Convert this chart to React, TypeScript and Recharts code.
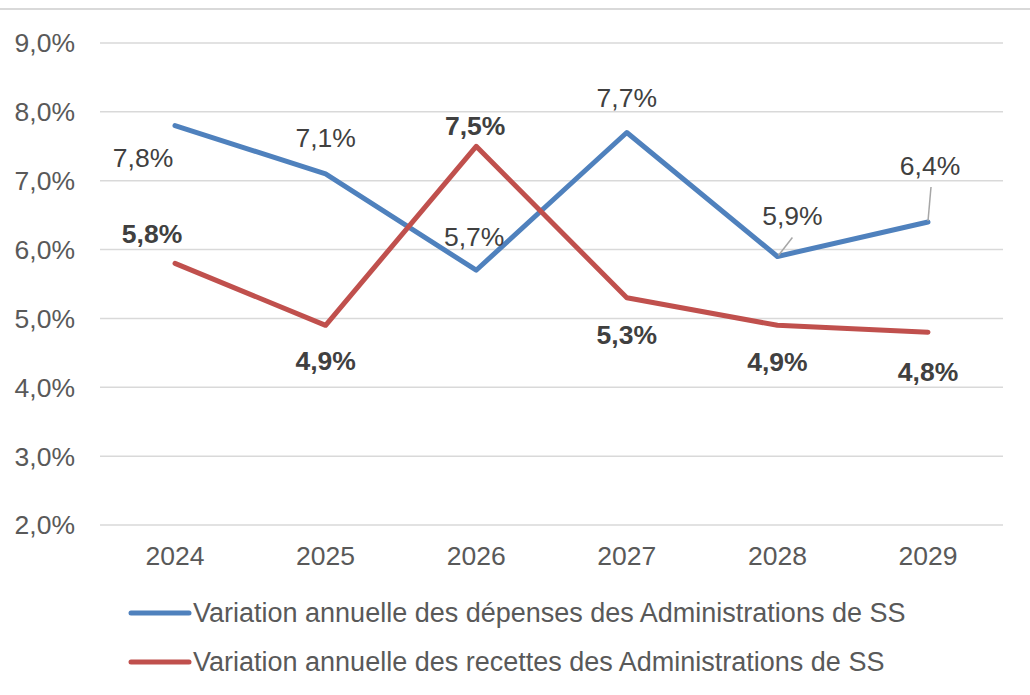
import { CartesianGrid, Legend, Line, LineChart, XAxis, YAxis } from 'recharts';

const years = ['2024', '2025', '2026', '2027', '2028', '2029'];
const depenses = [7.8, 7.1, 5.7, 7.7, 5.9, 6.4];
const recettes = [5.8, 4.9, 7.5, 5.3, 4.9, 4.8];
const yTicks = [2, 3, 4, 5, 6, 7, 8, 9];

const seriesNames = {
  dep: 'Variation annuelle des dépenses des Administrations de SS',
  rec: 'Variation annuelle des recettes des Administrations de SS',
};

const BLUE = '#4F81BD';
const RED = '#C0504D';
const FONT = '"Liberation Sans", Arial, sans-serif';
const FS = 26.5;

// label placement relative to each point (dx, dy), plus optional leader line
const depLabelPos = [
  { dx: -32, dy: 32 },
  { dx: 0, dy: -36 },
  { dx: -2, dy: -33 },
  { dx: 0, dy: -35 },
  { dx: 15, dy: -40, leader: [1, -1, 15, -19] },
  { dx: 2, dy: -56, leader: [0, -1, 3, -35] },
];
const recLabelPos = [
  { dx: -23, dy: -29 },
  { dx: 0, dy: 36 },
  { dx: -1, dy: -20 },
  { dx: 0, dy: 37 },
  { dx: 0, dy: 37 },
  { dx: 0, dy: 40 },
];

const rows = years.map((year, i) => ({
  year,
  dep: depenses[i],
  rec: recettes[i],
}));

const fmt = (v: number) => `${v.toFixed(1).replace('.', ',')}%`;

function makeLabel(pos: typeof depLabelPos, bold: boolean) {
  return (props: any) => {
    const { x, y, value, index } = props;
    const p = pos[index] ?? { dx: 0, dy: -30 };
    return (
      <g key={`lbl-${bold ? 'r' : 'b'}-${index}`}>
        {p.leader && (
          <line
            x1={x + p.leader[0]}
            y1={y + p.leader[1]}
            x2={x + p.leader[2]}
            y2={y + p.leader[3]}
            stroke="#a6a6a6"
            strokeWidth={1.5}
          />
        )}
        <text
          x={x + p.dx}
          y={y + p.dy}
          textAnchor="middle"
          dominantBaseline="central"
          fill="#404040"
          fontSize={FS}
          fontWeight={bold ? 'bold' : 'normal'}
          fontFamily={FONT}
        >
          {fmt(Number(value))}
        </text>
      </g>
    );
  };
}

function LegendBox() {
  const items = [
    { color: BLUE, name: seriesNames.dep },
    { color: RED, name: seriesNames.rec },
  ];
  return (
    <div style={{ position: 'relative', height: 110 }}>
      {items.map((it, i) => (
        <div
          key={it.name}
          style={{
            position: 'absolute',
            left: 128,
            top: 12 + i * 49,
            display: 'flex',
            alignItems: 'center',
            height: 32,
            whiteSpace: 'nowrap',
          }}
        >
          <svg width={64} height={10}>
            <line x1={3} y1={5} x2={61} y2={5} stroke={it.color} strokeWidth={5} strokeLinecap="round" />
          </svg>
          <span style={{ fontSize: 27, color: '#595959', fontFamily: FONT, marginLeft: 1 }}>{it.name}</span>
        </div>
      ))}
    </div>
  );
}

export default function App() {
  return (
    <div style={{ position: 'absolute', left: 0, top: 0, width: 1030, height: 695, background: '#fff' }}>
      <div style={{ position: 'absolute', left: 0, top: 8, width: 1030, height: 2, background: '#d9d9d9' }} />
      <LineChart
        width={1030}
        height={695}
        data={rows}
        margin={{ top: 43, right: 27, left: 0, bottom: 0 }}
        style={{ fontFamily: FONT }}
      >
        <CartesianGrid vertical={false} stroke="#d9d9d9" strokeWidth={1.5} />
        <XAxis
          dataKey="year"
          axisLine={false}
          tickLine={false}
          tickSize={0}
          tickMargin={21}
          height={60}
          padding={{ left: 75, right: 75 }}
          tick={{ fontSize: FS, fill: '#595959', fontFamily: FONT }}
        />
        <YAxis
          domain={[2, 9]}
          ticks={yTicks}
          tickFormatter={fmt}
          axisLine={false}
          tickLine={false}
          tickSize={0}
          tickMargin={25}
          width={100}
          tick={{ fontSize: FS, fill: '#595959', fontFamily: FONT }}
        />
        <Legend verticalAlign="bottom" height={110} content={() => <LegendBox />} />
        <Line
          dataKey="dep"
          name={seriesNames.dep}
          stroke={BLUE}
          strokeWidth={5}
          strokeLinejoin="round"
          strokeLinecap="round"
          dot={false}
          activeDot={false}
          isAnimationActive={false}
          label={makeLabel(depLabelPos, false)}
        />
        <Line
          dataKey="rec"
          name={seriesNames.rec}
          stroke={RED}
          strokeWidth={5}
          strokeLinejoin="round"
          strokeLinecap="round"
          dot={false}
          activeDot={false}
          isAnimationActive={false}
          label={makeLabel(recLabelPos, true)}
        />
      </LineChart>
    </div>
  );
}
